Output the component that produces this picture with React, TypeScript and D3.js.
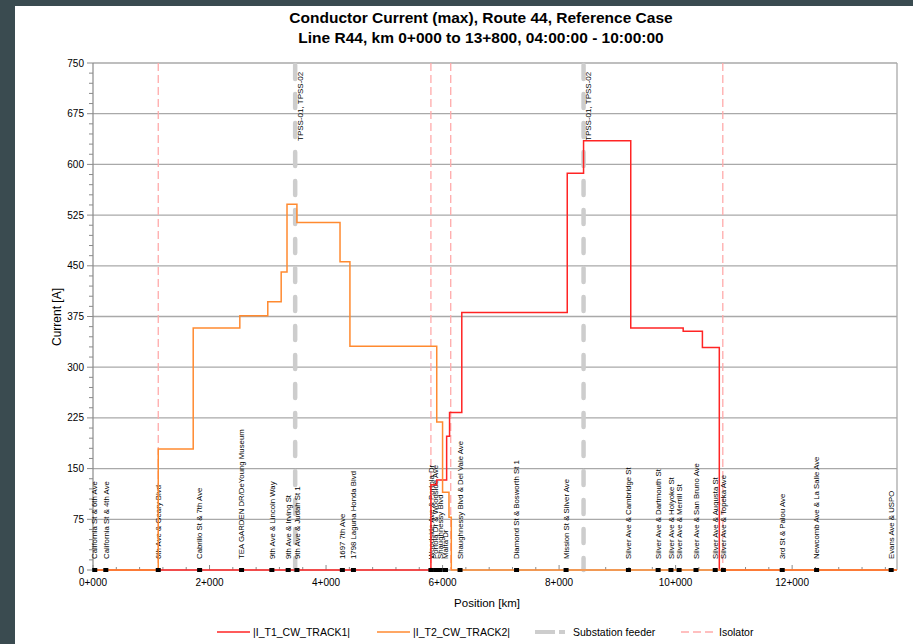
import React from "react";
import * as d3 from "d3";

// Track currents (A), step profiles: value holds from each km until the next
const t1Km = [0, 5.8, 5.9, 6.07, 6.12, 6.33, 8.14, 8.42, 9.23, 10.13, 10.46, 10.75, 13.8];
const t1Amp = [0, 126, 133, 198, 233, 381, 587, 635, 358, 353, 329, 0, 0];
const t2Km = [0, 1.12, 1.72, 2.52, 3.0, 3.23, 3.33, 3.5, 4.24, 4.41, 5.9, 6.0, 6.11, 6.15, 13.8];
const t2Amp = [0, 179, 358, 376, 397, 441, 541, 514, 456, 331, 219, 115, 78, 0, 0];

// Stops along the line
const stopKm = [0.03, 0.22, 1.12, 1.83, 2.55, 3.07, 3.35, 3.5, 4.28, 4.47, 5.8, 5.88, 5.96, 6.05, 6.3, 7.27, 8.12, 9.19, 9.7, 9.92, 10.06, 10.35, 10.68, 10.82, 11.83, 12.42, 13.7];
const stopNames = [
  "California St & 6th Ave",
  "California St & 4th Ave",
  "6th Ave & Geary Blvd",
  "Cabrillo St & 7th Ave",
  "TEA GARDEN DR/DeYoung Museum",
  "9th Ave & Lincoln Way",
  "9th Ave & Irving St",
  "9th Ave & Judah St 1",
  "1697 7th Ave",
  "1798 Laguna Honda Blvd",
  "Woodside Ave & Portola Dr",
  "Portola Dr & Woodside Ave",
  "Shaughnessy Blvd",
  "Malta Dr",
  "Shaughnessy Blvd & Del Vale Ave",
  "Diamond St & Bosworth St 1",
  "Mission St & Silver Ave",
  "Silver Ave & Cambridge St",
  "Silver Ave & Dartmouth St",
  "Silver Ave & Holyoke St",
  "Silver Ave & Merrill St",
  "Silver Ave & San Bruno Ave",
  "Silver Ave & Augusta St",
  "Silver Ave & Topeka Ave",
  "3rd St & Palou Ave",
  "Newcomb Ave & La Salle Ave",
  "Evans Ave & USPO",
];

const feederKm = [3.47, 8.42];
const feederLabel = "TPSS-01, TPSS-02";
const isolatorKm = [1.12, 5.8, 6.14, 10.81];

const yTicks = [0, 75, 150, 225, 300, 375, 450, 525, 600, 675, 750];
const xTicks = [0, 2, 4, 6, 8, 10, 12];
const xTickLabels = ["0+000", "2+000", "4+000", "6+000", "8+000", "10+000", "12+000"];

const legendItems = ["|I_T1_CW_TRACK1|", "|I_T2_CW_TRACK2|", "Substation feeder", "Isolator"];

const W = 913;
const H = 644;
const FONT = "'Liberation Sans', Arial, sans-serif";
const RED = "#ff2424";
const ORANGE = "#ff8a30";
const FEEDER = "#cdcdcd";
const ISO = "#ffaaaa";
const GRID = "#a9a9a9";

export default function App() {
  const x = d3.scaleLinear().domain([0, 13.8]).range([93, 897]);
  const y = d3.scaleLinear().domain([0, 750]).range([570, 63]);

  const stepLine = d3
    .line<[number, number]>()
    .x((d) => x(d[0]))
    .y((d) => y(d[1]))
    .curve(d3.curveStepAfter);

  const t1 = stepLine(t1Km.map((k, i) => [k, t1Amp[i]]) as [number, number][]) || "";
  const t2 = stepLine(t2Km.map((k, i) => [k, t2Amp[i]]) as [number, number][]) || "";

  const yMinor = d3.range(0, 751, 15);
  const xMinor = d3.range(0, 13.81, 0.4);

  const legendX = [217, 377, 535, 681];

  return (
    <div style={{ position: "fixed", left: 0, top: 0 }}>
      <svg width={W} height={H} style={{ display: "block" }}>
        <rect x={0} y={0} width={W} height={H} fill="#3a4b50" />
        <rect x={15} y={6} width={W - 15} height={H - 6} fill="#ffffff" />

        {/* title */}
        <text x={481} y={23} textAnchor="middle" fontFamily={FONT} fontWeight="bold" fontSize={15.5} fill="#000">
          Conductor Current (max), Route 44, Reference Case
        </text>
        <text x={481} y={43} textAnchor="middle" fontFamily={FONT} fontWeight="bold" fontSize={15.5} fill="#000">
          Line R44, km 0+000 to 13+800, 04:00:00 - 10:00:00
        </text>

        {/* horizontal grid */}
        {yTicks.slice(1).map((v) => (
          <line key={"g" + v} x1={x(0)} x2={x(13.8)} y1={y(v)} y2={y(v)} stroke={GRID} strokeWidth={1.3} />
        ))}
        <line x1={x(13.8)} x2={x(13.8)} y1={y(750)} y2={y(0)} stroke={GRID} strokeWidth={1.3} />

        {/* y axis */}
        <line x1={x(0)} x2={x(0)} y1={y(750)} y2={y(0)} stroke="#8a8a8a" strokeWidth={1.2} />
        {yMinor.map((v) => (
          <line key={"ym" + v} x1={x(0) - (v % 75 === 0 ? 6 : 4)} x2={x(0)} y1={y(v)} y2={y(v)} stroke="#8a8a8a" strokeWidth={1} />
        ))}
        {yTicks.map((v) => (
          <text key={"yl" + v} x={x(0) - 9} y={y(v)} dy="0.35em" textAnchor="end" fontFamily={FONT} fontSize={10} fill="#000">
            {v}
          </text>
        ))}
        <text
          transform={`translate(${57},${317}) rotate(-90)`}
          textAnchor="middle"
          dy="0.35em"
          fontFamily={FONT}
          fontSize={12}
          fill="#000"
        >
          Current [A]
        </text>

        {/* x axis */}
        <line x1={x(0)} x2={x(13.8)} y1={y(0)} y2={y(0)} stroke="#8a8a8a" strokeWidth={1.2} />
        {xMinor.map((k) => (
          <line key={"xm" + k} x1={x(k)} x2={x(k)} y1={y(0) - (Math.abs(k % 2) < 1e-6 ? 5 : 3)} y2={y(0)} stroke="#8a8a8a" strokeWidth={1} />
        ))}
        {xTicks.map((k, i) => (
          <text key={"xl" + k} x={x(k)} y={586} textAnchor="middle" fontFamily={FONT} fontSize={10} fill="#000">
            {xTickLabels[i]}
          </text>
        ))}
        <text x={487} y={607} textAnchor="middle" fontFamily={FONT} fontSize={11.5} fill="#000">
          Position [km]
        </text>

        {/* isolators */}
        {isolatorKm.map((k) => (
          <line key={"iso" + k} x1={x(k)} x2={x(k)} y1={y(750)} y2={y(0)} stroke={ISO} strokeWidth={1.3} strokeDasharray="8 4" />
        ))}

        {/* substation feeders */}
        {feederKm.map((k) => (
          <g key={"fd" + k}>
            <line x1={x(k)} x2={x(k)} y1={y(750) + 2} y2={y(0)} stroke={FEEDER} strokeWidth={4.5} strokeLinecap="round" strokeDasharray="14 15" />
            <text
              transform={`translate(${x(k) + 5},${141}) rotate(-90)`}
              dy="0.35em"
              fontFamily={FONT}
              fontSize={8}
              fill="#000"
            >
              {feederLabel}
            </text>
          </g>
        ))}

        {/* stop labels */}
        {stopKm.map((k, i) => (
          <text
            key={"sl" + i}
            transform={`translate(${x(k)},${559}) rotate(-90)`}
            dy="0.35em"
            fontFamily={FONT}
            fontSize={7.8}
            fill="#000"
          >
            {stopNames[i]}
          </text>
        ))}

        {/* current profiles */}
        <path d={t1} fill="none" stroke={RED} strokeWidth={1.5} />
        <path d={t2} fill="none" stroke={ORANGE} strokeWidth={1.5} />

        {/* stop markers */}
        {stopKm.map((k, i) => (
          <rect key={"sq" + i} x={x(k) - 2.5} y={y(0) - 2} width={5} height={4} fill="#000" />
        ))}

        {/* legend */}
        <g fontFamily={FONT} fontSize={10.5} fill="#000">
          <line x1={legendX[0]} x2={legendX[0] + 33} y1={632} y2={632} stroke={RED} strokeWidth={1.5} />
          <text x={legendX[0] + 36} y={632} dy="0.35em">{legendItems[0]}</text>
          <line x1={legendX[1]} x2={legendX[1] + 33} y1={632} y2={632} stroke={ORANGE} strokeWidth={1.5} />
          <text x={legendX[1] + 36} y={632} dy="0.35em">{legendItems[1]}</text>
          <line x1={legendX[2]} x2={legendX[2] + 34} y1={632} y2={632} stroke={FEEDER} strokeWidth={4} strokeDasharray="20 4 6 4" />
          <text x={legendX[2] + 38} y={632} dy="0.35em">{legendItems[2]}</text>
          <line x1={legendX[3]} x2={legendX[3] + 34} y1={632} y2={632} stroke={ISO} strokeWidth={1.3} strokeDasharray="8 4" />
          <text x={legendX[3] + 38} y={632} dy="0.35em">{legendItems[3]}</text>
        </g>
      </svg>
    </div>
  );
}
